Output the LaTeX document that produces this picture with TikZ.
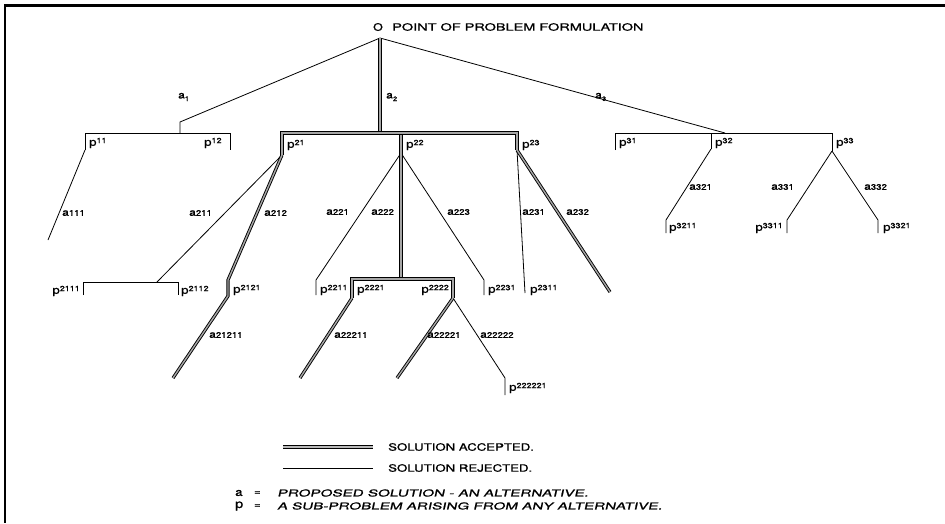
\documentclass[tikz,border=0pt]{standalone}
\usepackage{fontspec}
\newfontfamily\lettr[FakeStretch=1.2,FakeBold=1.2]{TeX Gyre Heros}
\newfontfamily\lettrw[FakeStretch=1.32,FakeBold=1.2]{TeX Gyre Heros}
\newfontfamily\lettrt[FakeStretch=1.45,FakeBold=1.2]{TeX Gyre Heros}
\newfontfamily\lettri[FakeStretch=1.6,FakeSlant=0.22,FakeBold=1.2]{TeX Gyre Heros}
\newcommand\Aname[1]{{\fontsize{10}{10}\selectfont a}{\fontsize{8}{8}\selectfont #1}}
\newcommand\Asub[1]{{\fontsize{10}{10}\selectfont a}\raisebox{-0.5ex}{\fontsize{6.5}{6.5}\selectfont #1}}
\newcommand\Pname[1]{{\fontsize{11}{11}\selectfont p}\raisebox{0.5ex}{\fontsize{7.5}{7.5}\selectfont #1}}
\begin{document}
\begin{tikzpicture}[x=1pt,y=-1pt,
  rej/.style={draw=black,line width=0.8pt,line join=miter},
  acc/.style={draw=black,line width=0.9pt,double=gray!70,double distance=1.4pt,line join=miter},
  lbl/.style={inner sep=0pt,anchor=west,font=\lettr},
  lble/.style={inner sep=0pt,anchor=east,font=\lettr},
  legt/.style={inner sep=0pt,anchor=west,font=\lettrw\fontsize{10}{10}\selectfont},
  titt/.style={inner sep=0pt,anchor=west,font=\lettrt\fontsize{10}{10}\selectfont},
  legi/.style={inner sep=0pt,anchor=west,font=\lettri\fontsize{9.5}{10}\selectfont}]
\useasboundingbox (0,0) rectangle (945,523);
% frame (top and left)
\coordinate (fTL) at (5,5.5); \coordinate (fTR) at (945,5.5); \coordinate (fBL) at (5,523);
\draw[line width=2.2pt] (fTR) -- (fTL) -- (fBL);
% root
\coordinate (R) at (380,38);
\node[inner sep=0pt,font=\lettr\fontsize{10.3}{10}\selectfont] (O) at (378,27) {O};
\node[titt] (title) at (392,27) {POINT OF PROBLEM FORMULATION};
% ---------- a1 branch
\coordinate (k1) at (180,122); \coordinate (b1) at (180,133);
\coordinate (p11t) at (85,133); \coordinate (p11b) at (85,150);
\coordinate (p12t) at (230,133); \coordinate (p12b) at (230,150);
\draw[rej] (R) -- (k1) -- (b1);
\draw[rej] (p11b) -- (p11t) -- (p12t) -- (p12b);
\coordinate (e111) at (48,240);
\draw[rej] (p11b) -- (e111);
% ---------- a3 branch
\coordinate (b3) at (725,133);
\coordinate (p31t) at (615,133); \coordinate (p31b) at (615,150);
\coordinate (p32t) at (711,133); \coordinate (p32b) at (711,149);
\coordinate (p33t) at (832,133); \coordinate (p33b) at (832,151);
\draw[rej] (R) -- (b3);
\draw[rej] (p31b) -- (p31t) -- (p33t) -- (p33b);
\draw[rej] (p32t) -- (p32b);
\coordinate (k321) at (666,220); \coordinate (p3211) at (666,233);
\coordinate (k331) at (787,220); \coordinate (p3311) at (787,233);
\coordinate (k332) at (878,220); \coordinate (p3321) at (878,233);
\draw[rej] (p32b) -- (k321) -- (p3211);
\draw[rej] (p33b) -- (k331) -- (p3311);
\draw[rej] (p33b) -- (k332) -- (p3321);
% ---------- a2 branch
\coordinate (b2) at (380,133);
\coordinate (p21t) at (282,133); \coordinate (p21b) at (282,155);
\coordinate (p22t) at (401,133); \coordinate (p22b) at (401,153);
\coordinate (p23t) at (517,133); \coordinate (p23b) at (517,150);
% p21 children
\coordinate (j211) at (157,282);
\coordinate (p2111t) at (83,282); \coordinate (p2111b) at (83,295);
\coordinate (p2112t) at (178,282); \coordinate (p2112b) at (178,295);
\draw[rej] (p21b) -- (j211);
\draw[rej] (p2111b) -- (p2111t) -- (p2112t) -- (p2112b);
\coordinate (k212) at (228,280); \coordinate (p2121) at (228,296);
\coordinate (e21211) at (173,378);
\draw[acc] (p21b) -- (k212) -- (p2121) -- (e21211);
% p22 children
\coordinate (k221) at (316,280); \coordinate (p2211) at (316,295);
\draw[rej] (p22b) -- (k221) -- (p2211);
\coordinate (k223) at (484,280); \coordinate (p2231) at (484,295);
\draw[rej] (p22b) -- (k223) -- (p2231);
\coordinate (j222) at (401,279);
\coordinate (p2221t) at (352,279); \coordinate (p2221b) at (352,298);
\coordinate (p2222t) at (453,279); \coordinate (p2222b) at (453,298);
\coordinate (e22211) at (300,378);
\coordinate (e22221) at (397,378);
\coordinate (k22222) at (505,378); \coordinate (p222221) at (505,395);
\draw[rej] (p2222b) -- (k22222) -- (p222221);
\draw[acc] (p2221b) -- (e22211);
\draw[acc] (p2222b) -- (e22221);
\draw[acc] (p22b) -- (j222);
\draw[acc] (p2221b) -- (p2221t) -- (p2222t) -- (p2222b);
% p23 children
\coordinate (p2311) at (525,293);
\coordinate (e232) at (610,292);
\draw[rej] (p23b) -- (p2311);
\draw[acc] (p23b) -- (e232);
% a2 and p2 bar
\draw[acc] (R) -- (b2);
\draw[acc] (p22t) -- (p22b);
\draw[acc] (p21b) -- (p21t) -- (p23t) -- (p23b);
% ---------- labels
\node[lbl] (la1) at (178,97) {\Asub{1}};
\node[lbl] (la2) at (386,97) {\Asub{2}};
\node[lbl] (la3) at (595,97) {\Asub{3}};
\node[lbl] (lp11) at (89,143) {\Pname{11}};
\node[lbl] (lp12) at (204,143) {\Pname{12}};
\node[lbl] (lp21) at (287,145) {\Pname{21}};
\node[lbl] (lp22) at (406,145) {\Pname{22}};
\node[lbl] (lp23) at (522,145) {\Pname{23}};
\node[lbl] (lp31) at (619,143) {\Pname{31}};
\node[lbl] (lp32) at (715,143) {\Pname{32}};
\node[lbl] (lp33) at (836,143) {\Pname{33}};
\node[lbl] (la111) at (62,213) {\Aname{111}};
\node[lbl] (la211) at (189,213) {\Aname{211}};
\node[lbl] (la212) at (264,213) {\Aname{212}};
\node[lbl] (la221) at (326,212) {\Aname{221}};
\node[lbl] (la222) at (371,212) {\Aname{222}};
\node[lbl] (la223) at (447,212) {\Aname{223}};
\node[lbl] (la231) at (522,212) {\Aname{231}};
\node[lbl] (la232) at (566,212) {\Aname{232}};
\node[lbl] (la321) at (689,187) {\Aname{321}};
\node[lbl] (la331) at (771,187) {\Aname{331}};
\node[lbl] (la332) at (864,187) {\Aname{332}};
\node[lbl] (lp3211) at (669,228) {\Pname{3211}};
\node[lble] (lp3311) at (783,228) {\Pname{3311}};
\node[lbl] (lp3321) at (883,228) {\Pname{3321}};
\node[lble] (lp2111) at (80,291) {\Pname{2111}};
\node[lbl] (lp2112) at (181,291) {\Pname{2112}};
\node[lbl] (lp2121) at (233,290) {\Pname{2121}};
\node[lbl] (lp2211) at (320,290) {\Pname{2211}};
\node[lbl] (lp2221) at (357,290) {\Pname{2221}};
\node[lble] (lp2222) at (449,290) {\Pname{2222}};
\node[lbl] (lp2231) at (488,290) {\Pname{2231}};
\node[lbl] (lp2311) at (530,290) {\Pname{2311}};
\node[lbl] (la21211) at (209,335) {\Aname{21211}};
\node[lbl] (la22211) at (334,335) {\Aname{22211}};
\node[lbl] (la22221) at (427,335) {\Aname{22221}};
\node[lbl] (la22222) at (480,335) {\Aname{22222}};
\node[lbl] (lp222221) at (509,388) {\Pname{222221}};
% ---------- legend
\coordinate (LA1) at (283,447); \coordinate (LA2) at (373,447);
\coordinate (LR1) at (283,468); \coordinate (LR2) at (373,468);
\draw[acc,double=gray!55] (LA1) -- (LA2);
\draw[rej] (LR1) -- (LR2);
\node[legt] (tacc) at (388,447) {SOLUTION ACCEPTED.};
\node[legt] (trej) at (388,468) {SOLUTION REJECTED.};
\node[lbl] (ka) at (235,493) {\fontsize{11}{11}\selectfont a};
\node[lbl] (keqa) at (254,493) {\fontsize{9}{9}\selectfont =};
\node[legi] (tka) at (277,493) {PROPOSED SOLUTION - AN ALTERNATIVE.};
\node[lbl] (kp) at (235,506) {\fontsize{12}{12}\selectfont p};
\node[lbl] (keqp) at (254,506) {\fontsize{9}{9}\selectfont =};
\node[legi] (tkp) at (277,506) {A SUB-PROBLEM ARISING FROM ANY ALTERNATIVE.};
\end{tikzpicture}
\end{document}
